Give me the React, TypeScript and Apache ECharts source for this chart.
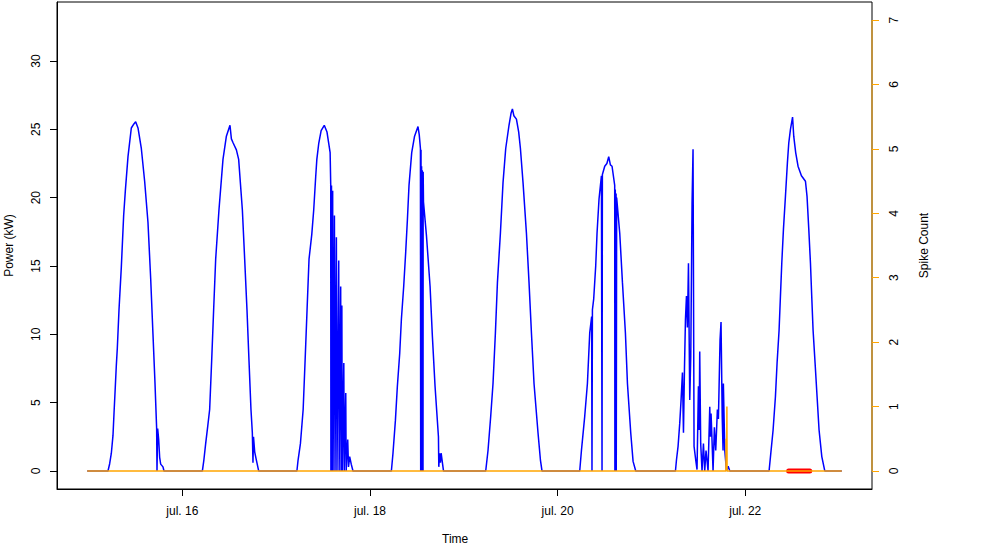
import React, { useEffect, useRef } from "react";
import * as echarts from "echarts";

const FONT = "'Liberation Sans', Arial, Helvetica, sans-serif";

// Time is in hours since jul. 15 00:00
const xTickHours = [24, 72, 120, 168];
const xTickLabels = ["jul. 16", "jul. 18", "jul. 20", "jul. 22"];
const powerTicks = [0, 5, 10, 15, 20, 25, 30];
const spikeTicks = [0, 1, 2, 3, 4, 5, 6, 7];

const dataStart = -0.35;
const dataEnd = 192.7;

// Power (kW) per day: [hour of day, kW]
const jul15 = [[4.97,0],[5.4,0.53],[5.83,1.3],[6.25,2.6],[6.51,4.2],[6.85,6.2],[7.1,7.7],[7.36,9.0],[7.79,11.8],[8.38,14.9],[8.98,18.7],[9.41,20.5],[10.09,23.0],[10.94,25.1],[11.6,25.4],[12.05,25.55],[12.65,25.1],[13.5,23.6],[14.35,21.2],[15.2,18.2],[15.89,14.1],[16.48,10.0],[17.0,6.4],[17.42,3.1],[17.51,0],[17.68,3.1],[17.94,2.3],[18.19,1.0],[18.45,0.5],[19.04,0.3],[19.3,0]];
const jul16 = [[5.12,0],[5.5,0.8],[5.96,2.0],[6.5,3.3],[6.98,4.5],[7.5,8.1],[8.0,11.8],[8.52,15.5],[9.36,19.1],[10.39,22.8],[11.26,24.5],[12.18,25.3],[12.54,24.3],[13.0,24.0],[13.82,23.5],[14.4,22.8],[15.35,19.1],[15.94,15.5],[16.53,11.8],[17.04,8.1],[17.55,4.5],[17.9,2.8],[18.06,0.6],[18.2,2.5],[18.5,1.4],[18.93,0.8],[19.52,0]];
const jul17 = [[5.3,0],[5.6,0.8],[6.2,2.0],[6.9,4.5],[7.4,8.1],[7.9,11.8],[8.4,15.5],[9.1,17.3],[9.6,19.1],[10.1,21.5],[10.4,22.8],[10.9,24.0],[11.5,24.9],[12.3,25.3],[13.0,24.8],[13.8,23.3],[13.95,21.0],[14.0,0],[14.15,20.9],[14.25,0],[14.45,20.5],[14.55,0],[14.9,18.7],[15.05,0],[15.4,17.1],[15.55,0],[16.0,15.4],[16.1,0],[16.5,13.5],[16.6,0],[16.8,12.1],[16.9,0],[17.3,7.9],[17.4,0],[17.8,5.7],[17.9,0],[18.3,2.3],[18.5,0.3],[18.8,1.05],[19.2,0.5],[19.65,0]];
const jul18 = [[5.47,0],[5.88,1.3],[6.5,3.7],[7.0,6.2],[7.6,8.6],[8.03,11.1],[8.62,13.5],[9.13,16.0],[9.57,18.4],[9.98,20.9],[10.67,23.3],[11.4,24.5],[12.28,25.2],[12.6,24.6],[12.9,23.6],[12.97,0],[13.05,23.5],[13.12,0],[13.2,22.3],[13.28,0],[13.36,22.0],[13.44,0],[13.52,16.0],[13.56,0],[13.6,21.9],[13.68,19.7],[14.45,17.2],[15.37,13.5],[15.96,9.85],[16.64,6.2],[17.51,2.5],[17.6,0.3],[17.8,1.3],[18.0,0.6],[18.2,1.3],[18.8,0]];
const jul19 = [[5.6,0],[6.19,1.5],[6.88,4.0],[7.47,6.4],[8.08,10.1],[8.6,13.8],[9.36,17.4],[10.03,21.1],[10.72,23.6],[11.56,25.3],[12.1,26.2],[12.43,26.5],[12.8,26.0],[13.46,25.75],[14.04,24.8],[14.48,23.6],[15.15,21.1],[16.02,17.4],[16.68,13.8],[17.3,10.1],[17.96,6.4],[18.98,2.8],[19.6,0.8],[20.0,0]];
const jul20 = [[5.65,0],[6.09,1.5],[6.93,4.0],[7.62,6.4],[8.21,10.1],[8.7,11.3],[8.79,0],[8.9,11.8],[9.23,12.6],[9.74,15.0],[10.08,17.4],[10.59,19.9],[11.2,21.6],[11.36,0],[11.45,21.7],[12.05,22.3],[12.6,22.5],[13.07,23.0],[13.5,22.4],[13.92,22.3],[14.6,20.9],[14.65,0],[14.75,20.6],[14.85,9.0],[14.95,20.3],[15.0,0],[15.1,20.0],[15.89,17.4],[16.58,13.8],[17.34,10.1],[17.86,6.4],[18.7,2.8],[19.3,0.7],[19.98,0]];
const jul21 = [[6.14,0],[6.4,0.8],[6.81,1.8],[7.24,3.5],[7.58,5.2],[7.93,7.2],[8.19,2.8],[8.45,7.5],[8.7,11.1],[8.96,12.8],[9.2,10.5],[9.47,15.2],[9.8,5.2],[10.06,8.4],[10.39,19.6],[10.64,23.55],[10.9,1.8],[11.33,0.8],[11.66,0.1],[12.02,6.2],[12.2,3.0],[12.35,8.75],[12.6,2.0],[12.94,0],[13.3,2.0],[13.63,0],[13.96,1.5],[14.48,0],[14.92,4.7],[15.1,2.5],[15.25,4.2],[15.43,2.8],[15.76,0],[16.1,3.2],[16.45,1.5],[16.87,4.5],[17.13,3.8],[17.55,9.6],[17.8,10.9],[18.1,4.0],[18.32,1.5],[18.4,6.4],[18.76,1.5],[19.2,0],[19.62,0.35],[20.05,0]];
const jul22 = [[6.09,0],[6.45,1.05],[7.12,3.0],[7.72,5.45],[8.14,7.9],[8.65,10.3],[9.0,12.8],[9.34,15.2],[9.77,17.7],[10.28,20.1],[10.79,22.6],[11.13,24.0],[11.56,25.0],[12.1,25.9],[12.4,24.5],[12.9,23.3],[13.5,22.3],[14.37,21.6],[15.4,21.2],[15.8,20.1],[16.25,17.7],[16.68,15.2],[17.0,12.8],[17.35,10.3],[17.86,7.9],[18.37,5.45],[18.88,3.0],[19.58,1.05],[20.34,0]];
const powerDays = [jul15, jul16, jul17, jul18, jul19, jul20, jul21, jul22];

// Spike count: [hours since jul. 15 00:00, count]
const spikeCount = [[-0.35,0],[163.05,0],[163.1,0.5],[163.15,0],[163.2,0.5],[163.25,0],[163.3,1.0],[163.35,0],[192.7,0]];

// Flagged segment (red) on the power axis: [hours, kW]
const flaggedSegment = [[179.1,0],[184.5,0]];

const powerMin = -1.32;
const powerMax = 34.32;
const spikeMin = -0.28;
const spikeMax = 7.28;

const span = dataEnd - dataStart;
const xMin = dataStart - 0.04 * span;
const xMax = dataEnd + 0.04 * span;

const powerData: number[][] = [[dataStart, 0]];
powerDays.forEach((day, i) => {
  day.forEach(([h, v]) => powerData.push([i * 24 + h, v]));
});
powerData.push([dataEnd, 0]);

const txt = { fontFamily: FONT, fontSize: 12, color: "#000" };

export default function App() {
  const ref = useRef<HTMLDivElement>(null);
  useEffect(() => {
    const chart = echarts.init(ref.current!, null, { renderer: "svg" });
    chart.setOption({
      animation: false,
      backgroundColor: "#fff",
      textStyle: { fontFamily: FONT },
      grid: {
        left: 57,
        top: 2,
        width: 815,
        height: 487,
        show: true,
        borderColor: "#000",
        borderWidth: 1,
        backgroundColor: "transparent",
        containLabel: false,
        outerBoundsMode: "none",
      },
      xAxis: {
        type: "value",
        min: xMin,
        max: xMax,
        splitLine: { show: false },
        axisLine: { show: true, onZero: false, lineStyle: { color: "#000", width: 1 } },
        axisTick: {
          show: true,
          length: 7,
          inside: false,
          customValues: xTickHours,
          lineStyle: { color: "#000", width: 1 },
        },
        axisLabel: {
          ...txt,
          margin: 16,
          customValues: xTickHours,
          formatter: (v: number) => {
            const i = xTickHours.indexOf(Math.round(v));
            return i >= 0 ? xTickLabels[i] : "";
          },
        },
      },
      yAxis: [
        {
          type: "value",
          min: powerMin,
          max: powerMax,
          position: "left",
          splitLine: { show: false },
          axisLine: { show: true, onZero: false, lineStyle: { color: "#000", width: 1 } },
          axisTick: {
            show: true,
            length: 7,
            customValues: powerTicks,
            lineStyle: { color: "#000", width: 1 },
          },
          axisLabel: { ...txt, rotate: 90, margin: 15, customValues: powerTicks },
          name: "Power (kW)",
          nameLocation: "middle",
          nameGap: 42,
          nameTextStyle: { ...txt },
        },
        {
          type: "value",
          min: spikeMin,
          max: spikeMax,
          position: "right",
          splitLine: { show: false },
          axisLine: { show: false, onZero: false },
          axisTick: {
            show: true,
            length: 7,
            customValues: spikeTicks,
            lineStyle: { color: "#FFA500", width: 1 },
          },
          axisLabel: { ...txt, rotate: 90, margin: 16, customValues: spikeTicks },
          name: "Spike Count",
          nameLocation: "middle",
          nameGap: 46,
          nameTextStyle: { ...txt },
        },
      ],
      graphic: [
        {
          type: "text",
          left: 456 - 14,
          top: 533,
          style: { text: "Time", font: `12px ${FONT}`, fill: "#000" },
        },
      ],
      series: [
        {
          type: "line",
          name: "Power",
          yAxisIndex: 0,
          data: powerData,
          symbol: "none",
          lineStyle: { color: "#0000FF", width: 1.5 },
          silent: true,
        },
        {
          type: "line",
          name: "Flagged",
          yAxisIndex: 0,
          data: flaggedSegment,
          symbol: "none",
          lineStyle: { color: "#FF0000", width: 5, cap: "round" },
          silent: true,
        },
        {
          type: "line",
          name: "Spike Count",
          yAxisIndex: 1,
          data: spikeCount,
          symbol: "none",
          lineStyle: { color: "#FFA500", width: 1.5 },
          silent: true,
        },
        {
          type: "line",
          name: "Spike axis",
          yAxisIndex: 1,
          data: [[xMax, spikeTicks[0]], [xMax, spikeTicks[spikeTicks.length - 1]]],
          symbol: "none",
          clip: false,
          lineStyle: { color: "#FFA500", width: 1 },
          silent: true,
        },
      ],
    });
    return () => chart.dispose();
  }, []);
  return (
    <div
      ref={ref}
      style={{ position: "fixed", left: 0, top: 0, width: 988, height: 547 }}
    />
  );
}
